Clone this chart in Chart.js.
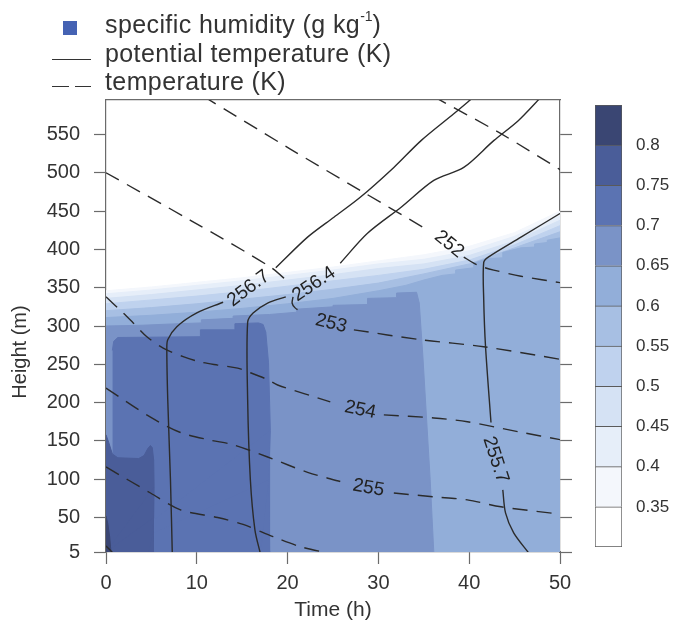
<!DOCTYPE html>
<html>
<head>
<meta charset="utf-8">
<script src="https://cdn.jsdelivr.net/npm/chart.js@4/dist/chart.umd.min.js"></script>
<style>
  html, body { margin: 0; padding: 0; background: #fff; }
  #wrap { position: relative; width: 673px; height: 630px; overflow: hidden;
          font-family: "Liberation Sans", Arial, sans-serif; color: #333; }
  #plot { position: absolute; left: 0; top: 0; }
  #bar  { position: absolute; left: 585px; top: 90px; }
  .key  { position: absolute; left: 105px; font-size: 25px; line-height: 25px;
          letter-spacing: 0.4px; white-space: nowrap; }
  .key sup { font-size: 14px; line-height: 0; vertical-align: 12px; letter-spacing: 0; }
  .mark { position: absolute; }
</style>
</head>
<body>
<div id="wrap">
  <canvas id="plot" width="673" height="630"></canvas>
  <canvas id="bar" width="88" height="470"></canvas>

  <!-- key -->
  <div class="mark" style="left:63px;top:21px;width:14px;height:14px;background:#4562b3"></div>
  <div class="mark" style="left:52px;top:59px;width:39px;border-top:1.5px solid #333"></div>
  <div class="mark" style="left:52px;top:86px;width:17px;border-top:1.5px solid #333"></div>
  <div class="mark" style="left:75px;top:86px;width:16px;border-top:1.5px solid #333"></div>
  <div class="key" style="top:12px">specific humidity (g kg<sup>-1</sup>)</div>
  <div class="key" style="top:41px">potential temperature (K)</div>
  <div class="key" style="top:69px">temperature (K)</div>
</div>

<script>
/* ---- axes ------------------------------------------------------ */
const heightTicks = [5, 50, 100, 150, 200, 250, 300, 350, 400, 450, 500, 550];

/* ---- specific humidity levels (g/kg), colours lowest first ----- */
const qLevels = ['0.35', '0.4', '0.45', '0.5', '0.55', '0.6', '0.65', '0.7', '0.75', '0.8'];
const qColors = ['#ffffff', '#f4f7fc', '#e6eef9', '#d5e2f4', '#bfd2ee', '#a7bfe3',
                 '#92aed9', '#7a93c7', '#5b73b2', '#4a5d99', '#3a4673'];

/* top of the moist layer: height (m) of each light level vs time (h) */
const bandTimes = [0, 5, 10, 15, 20, 25, 30, 35, 40, 45, 50];
const q035Top = [346, 351, 357, 363, 370, 377, 385, 393, 404, 422, 450];
const q040Top = [342, 347, 353, 359, 366, 373, 381, 387, 398, 417, 444];
const q045Top = [336, 341, 347, 353, 360, 367, 375, 381, 392, 411, 438];
const q050Top = [329, 334, 339, 345, 352, 359, 366, 374, 386, 406, 431];
const q055Top = [320, 324, 329, 335, 341, 348, 356, 368, 381, 402, 423];

/* outlines of the moister regions, [time, height] */
const q060Edge = [[0, 311], [5, 314], [10, 318], [15, 323], [20, 329], [25, 336], [30, 346],
  [33, 353], [35, 360], [37, 366], [38.5, 368], [38.5, 373], [40.5, 376], [40.5, 382],
  [42, 388], [43.7, 389], [43.7, 396], [45.7, 402], [47.2, 403], [47.2, 407], [48.6, 409],
  [48.6, 412], [50, 415]];
const q065Edge = [[0, 300], [4, 301], [8, 303], [10.5, 304], [10.5, 308], [14, 310], [14, 313],
  [18, 315], [21, 318], [21, 322], [25, 325], [25, 327], [28.8, 328], [28.8, 336], [32, 337],
  [32, 343], [34.2, 344], [34.5, 330], [34.9, 260], [35.3, 180], [35.7, 100], [36.1, 5]];
const q070Edge = [[0.7, 268], [0.85, 280], [1.3, 285], [10.4, 286], [10.4, 295], [14.2, 295],
  [14.2, 303], [16.8, 304], [17.3, 302], [17.6, 292], [17.9, 252], [18.1, 164], [17.9, 99],
  [17.3, 34], [17, 5], [18.1, 5]];
const q075Edge = [[0, 158], [0.3, 148], [0.7, 133], [1.3, 128], [3.6, 127], [4.2, 131],
  [4.6, 140], [4.9, 144], [5.1, 141], [5.25, 125], [5.3, 90], [5.25, 50], [5.0, 20],
  [4.7, 5], [5.3, 5]];
const q080Edge = [[0, 52], [0.2, 42], [0.4, 25], [0.55, 5]];

/* potential temperature isolines (K), [time, height]; null = label gap */
const theta2567 = [[40.6, 600], [38.3, 577], [34.7, 542], [31.7, 507], [28.0, 468], [25.1, 442],
  [22.2, 416], [18.7, 376], null, [12.9, 331], [10.0, 317], [7.8, 299], [6.8, 282], [6.7, 269],
  [6.8, 204], [7.1, 99], [7.3, 3]];
const theta2564 = [[48.0, 600], [45.4, 568], [42.7, 542], [39.4, 507], [36.1, 490], [32.5, 455],
  [28.8, 421], [25.8, 382], null, [19.8, 338], [17.8, 330], [16.2, 317], [15.6, 305],
  [15.6, 204], [15.9, 99], [16.4, 34], [17.0, 3]];
const theta2557 = [[50.3, 449], [45.7, 416], [42.1, 390], [41.6, 383], [41.6, 334], [41.8, 273],
  [42.4, 174], null, [43.7, 86], [44.0, 56], [44.9, 30], [46.6, 3]];

/* temperature isolines (K) */
const temp251 = [[36.0, 600], [43.5, 551], [50.3, 502]];
const temp252 = [[10.7, 600], [20.3, 531], [28.0, 477], [34.9, 429], null, [39.4, 390],
  [40.5, 382], [41.5, 377], [42.7, 373], [45.7, 365], [50.3, 356]];
const temp253 = [[0, 500], [9.3, 438], [18.1, 377], [20.2, 356], null, [20.6, 338], [20.5, 330],
  [20.8, 324], [21.4, 319], null, [27.3, 295], [34.7, 282], [41.6, 273], [50.3, 256]];
const temp254 = [[0, 338], [1.9, 317], [3.0, 304], [4.5, 286], [6.3, 271], [8.5, 260],
  [10.4, 253], [12.3, 249], [14.5, 245], [15.9, 239], [17.8, 230], [18.9, 223], [24.7, 201],
  null, [30.6, 184], [36.1, 180], [39.8, 175], [45.4, 162], [50.3, 151]];
const temp255 = [[0, 219], [4.9, 181], [8.2, 161], [11.5, 151], [14.0, 145], [17.8, 129],
  [22.2, 109], [25.8, 97], null, [31.7, 82], [36.1, 77], [39.8, 73], [43.5, 64], [50.3, 54]];
const temp256 = [[0, 116], [4.9, 82], [8.2, 60], [12.3, 50], [15.1, 41], [18.4, 25],
  [21.4, 12], [25.1, 2]];
const temp257 = [[0, 13], [0.9, 2]];

/* isoline labels */
const labelText   = ['256.7', '256.4', '255.7', '252', '253', '254', '255'];
const labelTime   = [15.7, 22.9, 42.9, 37.8, 24.8, 28.0, 28.9];
const labelHeight = [349, 354.6, 125.4, 406.7, 303.4, 190.5, 88.6];
const labelAngle  = [-37, -34, 72, 39, 14, 12, 10];

/* ---------------------------------------------------------------- */
Chart.defaults.font.family = '"Liberation Sans", Arial, sans-serif';
Chart.defaults.color = '#333';

const FRAME = '#6b6b6b';
const INK   = '#333';
const LINE  = '#2b2b2b';

const pts  = arr => arr.map(p => p === null ? {x: null, y: null} : {x: p[0], y: p[1]});
const band = hs  => bandTimes.map((t, i) => ({x: t, y: hs[i]}));

const fillSet = (data, color, order) => ({
  data, showLine: true, fill: 'start', backgroundColor: color, borderColor: color,
  borderWidth: 1, pointRadius: 0, tension: 0, order
});
const lineSet = (arr, dashed) => ({
  data: pts(arr), showLine: true, fill: false, borderColor: LINE, borderWidth: 1.4,
  borderDash: dashed ? [15, 9] : [], pointRadius: 0, tension: 0.3, order: 0
});

/* isoline labels + rotated height title */
const annotate = {
  id: 'annotate',
  afterDatasetsDraw(chart) {
    const {ctx, scales: {x, y}} = chart;
    ctx.save();
    ctx.font = '19px "Liberation Sans", Arial, sans-serif';
    ctx.fillStyle = '#222';
    ctx.textAlign = 'center';
    ctx.textBaseline = 'middle';
    labelText.forEach((s, i) => {
      ctx.save();
      ctx.translate(x.getPixelForValue(labelTime[i]), y.getPixelForValue(labelHeight[i]));
      ctx.rotate(labelAngle[i] * Math.PI / 180);
      ctx.fillText(s, 0, 0);
      ctx.restore();
    });
    ctx.restore();
  },
  afterDraw(chart) {
    const {ctx} = chart;
    ctx.save();
    ctx.font = '20px "Liberation Sans", Arial, sans-serif';
    ctx.fillStyle = INK;
    ctx.textAlign = 'center';
    ctx.textBaseline = 'middle';
    ctx.translate(20, 352);
    ctx.rotate(-Math.PI / 2);
    ctx.fillText('Height (m)', 0, 0);
    ctx.restore();
  }
};

const yTicks = s => { s.ticks = heightTicks.map(v => ({value: v})); };

new Chart(document.getElementById('plot'), {
  type: 'scatter',
  data: {
    datasets: [
      fillSet(band(q035Top), qColors[1], 20),
      fillSet(band(q040Top), qColors[2], 19),
      fillSet(band(q045Top), qColors[3], 18),
      fillSet(band(q050Top), qColors[4], 17),
      fillSet(band(q055Top), qColors[5], 16),
      fillSet(pts(q060Edge), qColors[6], 15),
      fillSet(pts(q065Edge), qColors[7], 14),
      fillSet(pts(q070Edge), qColors[8], 13),
      fillSet(pts(q075Edge), qColors[9], 12),
      fillSet(pts(q080Edge), qColors[10], 11),
      lineSet(theta2567, false),
      lineSet(theta2564, false),
      lineSet(theta2557, false),
      lineSet(temp251, true),
      lineSet(temp252, true),
      lineSet(temp253, true),
      lineSet(temp254, true),
      lineSet(temp255, true),
      lineSet(temp256, true),
      lineSet(temp257, true)
    ]
  },
  options: {
    responsive: false,
    animation: false,
    events: [],
    layout: {padding: {left: 0, right: 101, top: 100, bottom: 0}},
    plugins: {legend: {display: false}, tooltip: {enabled: false}},
    scales: {
      x: {
        type: 'linear', position: 'bottom', min: 0, max: 50,
        afterFit: s => { s.height = 78; },
        ticks: {stepSize: 10, padding: 7, color: INK, font: {size: 20}, maxRotation: 0},
        grid: {drawOnChartArea: false, tickLength: 12, tickColor: FRAME, tickWidth: 1.2},
        border: {color: FRAME, width: 1.2},
        title: {display: true, text: 'Time (h)', color: INK, font: {size: 21}, padding: {bottom: 7}}
      },
      x2: {
        type: 'linear', position: 'top', min: 0, max: 50,
        afterFit: s => { s.height = 0; },
        ticks: {display: false},
        grid: {display: false, drawTicks: false},
        border: {color: FRAME, width: 1.2}
      },
      y: {
        type: 'linear', position: 'left', min: 5, max: 595,
        afterBuildTicks: yTicks,
        afterFit: s => { s.width = 106; },
        ticks: {padding: 14, color: INK, font: {size: 20}},
        grid: {drawOnChartArea: false, tickLength: 12, tickColor: FRAME, tickWidth: 1.2},
        border: {color: FRAME, width: 1.2}
      },
      y2: {
        type: 'linear', position: 'right', min: 5, max: 595,
        afterBuildTicks: yTicks,
        afterFit: s => { s.width = 12; },
        ticks: {display: false},
        grid: {drawOnChartArea: false, tickLength: 12, tickColor: FRAME, tickWidth: 1.2},
        border: {color: FRAME, width: 1.2}
      }
    }
  },
  plugins: [annotate]
});

/* ---- colour bar -------------------------------------------------- */
new Chart(document.getElementById('bar'), {
  type: 'bar',
  data: {
    labels: [''],
    datasets: qColors.map((c, i) => ({
      data: [1],
      backgroundColor: c,
      borderColor: '#5a5a5a',
      borderWidth: {top: 1, left: 1, right: 1, bottom: i === 0 ? 1 : 0},
      borderSkipped: false,
      categoryPercentage: 1,
      barPercentage: 1
    }))
  },
  options: {
    responsive: false,
    animation: false,
    events: [],
    layout: {padding: {left: 10, right: 0, top: 15, bottom: 13}},
    plugins: {legend: {display: false}, tooltip: {enabled: false}},
    scales: {
      x: {stacked: true, display: false},
      y: {
        stacked: true, position: 'right', min: 0, max: 11,
        afterBuildTicks: s => { s.ticks = qLevels.map((_, i) => ({value: i + 1})); },
        afterFit: s => { s.width = 51; s.paddingTop = 0; s.paddingBottom = 0; },
        grid: {display: false, drawTicks: false},
        border: {display: false},
        ticks: {padding: 14, color: INK, font: {size: 17}, autoSkip: false,
                callback: v => qLevels[v - 1]}
      }
    }
  }
});
</script>
</body>
</html>
